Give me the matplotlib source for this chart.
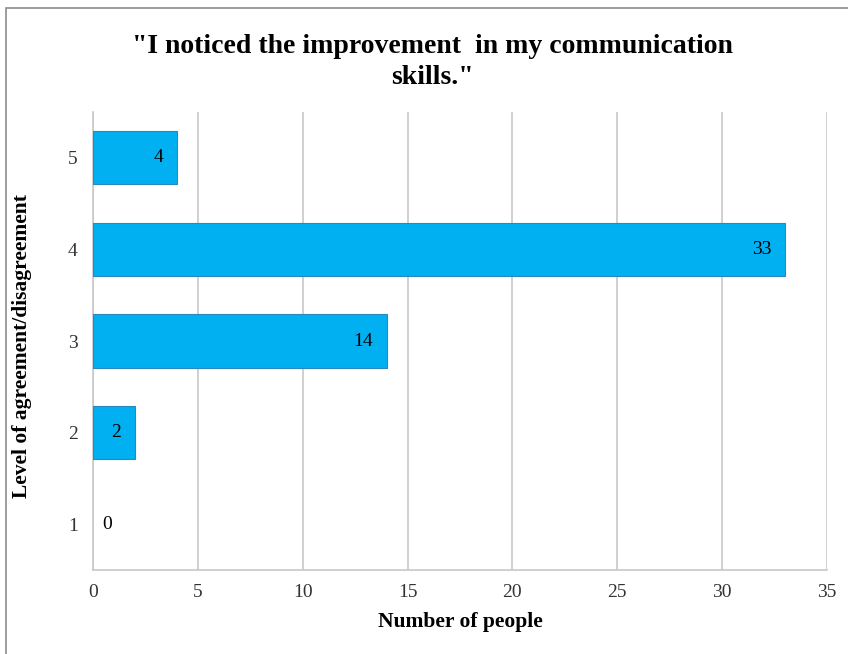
import matplotlib.pyplot as plt
from matplotlib.patches import Rectangle

# data
levels = ["1", "2", "3", "4", "5"]
counts = [0, 2, 14, 33, 4]
x_ticks = [0, 5, 10, 15, 20, 25, 30, 35]

title = "\"I noticed the improvement  in my communication\nskills.\""
x_label = "Number of people"
y_label = "Level of agreement/disagreement"

plt.rcParams['font.family'] = ['Liberation Serif', 'DejaVu Serif']

fig = plt.figure(figsize=(8.48, 6.54), dpi=100)
ax = fig.add_axes([93 / 848, 1 - 570 / 654, (827 - 93) / 848, (570 - 112) / 654])

# outer chart frame
fig.patches.append(Rectangle((6 / 848, -0.1), 1.2, 1 - 8 / 654 + 0.1,
                             transform=fig.transFigure, fill=False,
                             edgecolor="#8c8c8c", linewidth=1.2))

pos = list(range(len(levels)))
widths = [0.8 if v > 0 else 0 for v in counts]
ax.barh(pos, counts, height=0.58, color="#00b0f0",
        edgecolor="#2e86c1", linewidth=widths, zorder=3)

for p, v in zip(pos, counts):
    if v > 0:
        ax.annotate(str(v), (v, p), xytext=(-10, 0), textcoords="offset points",
                    ha="right", va="center", fontsize=14, zorder=4)
    else:
        ax.annotate(str(v), (v, p), xytext=(7, 0), textcoords="offset points",
                    ha="left", va="center", fontsize=14, zorder=4)

ax.set_xlim(0, 35)
ax.set_ylim(-0.5, len(levels) - 0.5)
ax.set_xticks(x_ticks)
ax.set_yticks(pos)
ax.set_yticklabels(levels)
ax.tick_params(axis="both", length=0, labelsize=14, labelcolor="#333333")
ax.tick_params(axis="x", pad=10)
ax.tick_params(axis="y", pad=11)

ax.grid(axis="x", color="#c8c8c8", linewidth=1.2, zorder=0)
for s in ["top", "right"]:
    ax.spines[s].set_visible(False)
for s in ["bottom", "left"]:
    ax.spines[s].set_color("#c8c8c8")
    ax.spines[s].set_linewidth(1.2)

fig.text(432 / 848, 1 - 62 / 654, title, ha="center", va="center",
         fontsize=20, fontweight="bold", linespacing=1.3)
fig.text(460 / 848, 1 - 622 / 654, x_label, ha="center", va="center",
         fontsize=15.5, fontweight="bold")
fig.text(22 / 848, 1 - 346 / 654, y_label, ha="center", va="center",
         rotation=90, fontsize=15.5, fontweight="bold")

fig.savefig("out.png", dpi=100)
